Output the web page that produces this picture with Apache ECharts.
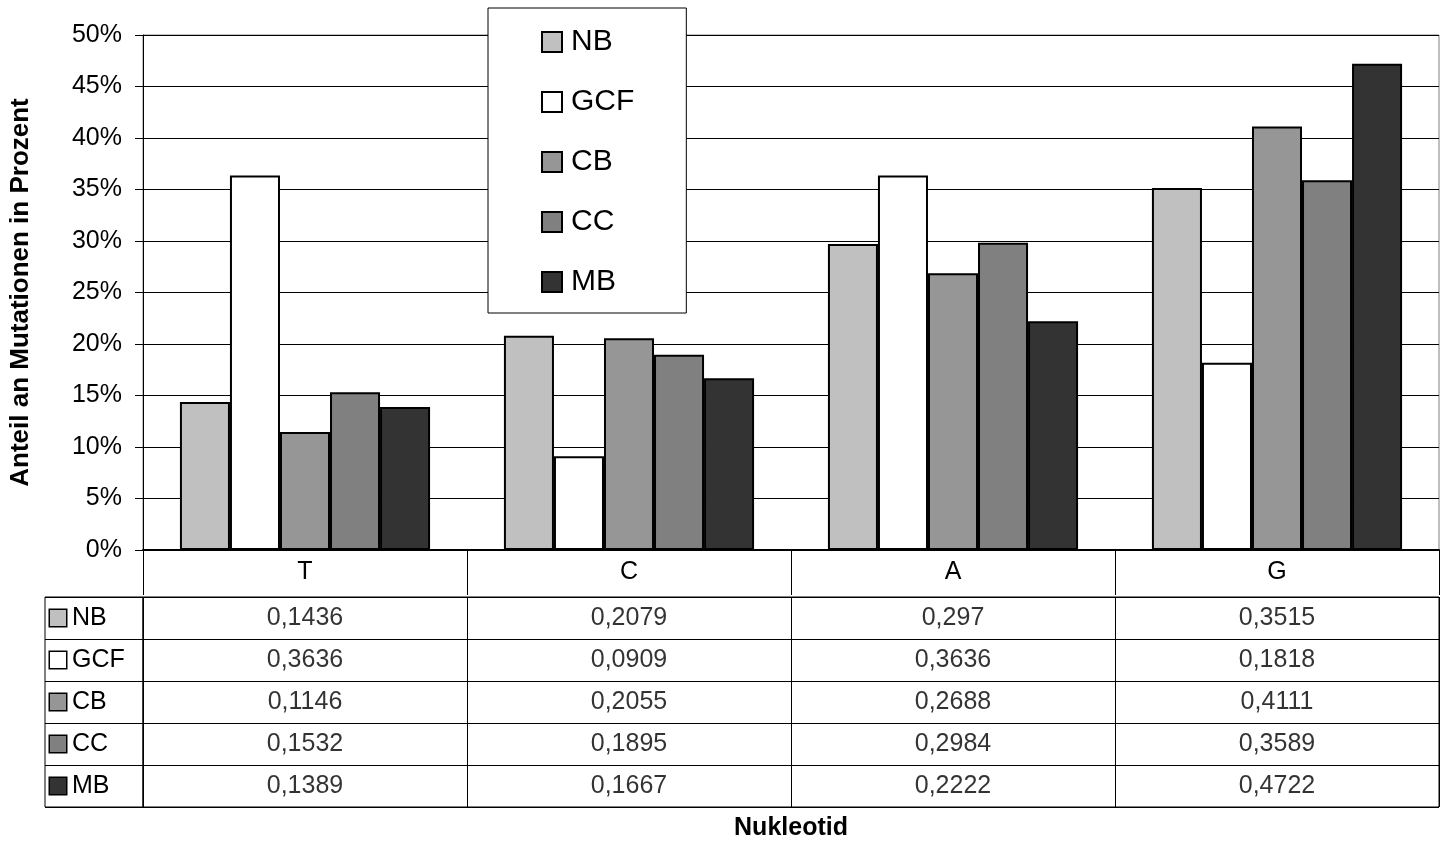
<!DOCTYPE html>
<html><head><meta charset="utf-8">
<script src="https://cdn.jsdelivr.net/npm/echarts@6/dist/echarts.min.js"></script>
<style>html,body{margin:0;padding:0;background:#fff}#c{width:1449px;height:846px}</style>
</head><body><div id="c"></div>
<script>
const categories = ['T', 'C', 'A', 'G'];
const seriesNames = ['NB', 'GCF', 'CB', 'CC', 'MB'];
const NB  = [0.1436, 0.2079, 0.297, 0.3515];
const GCF = [0.3636, 0.0909, 0.3636, 0.1818];
const CB  = [0.1146, 0.2055, 0.2688, 0.4111];
const CC  = [0.1532, 0.1895, 0.2984, 0.3589];
const MB  = [0.1389, 0.1667, 0.2222, 0.4722];
const colors = ['#c0c0c0', '#ffffff', '#969696', '#808080', '#333333'];
const yTicks = [0, 0.05, 0.1, 0.15, 0.2, 0.25, 0.3, 0.35, 0.4, 0.45, 0.5];
const yTitle = 'Anteil an Mutationen in Prozent';
const xTitle = 'Nukleotid';

const allSeries = [NB, GCF, CB, CC, MB];
const FONT = 'Liberation Sans, Arial, sans-serif';

const fmt = v => String(v).replace('.', ',');

const tableData = [];
allSeries.forEach((arr, ri) => arr.forEach((v, ci) => tableData.push([ci, ri, v])));

const rich = {};
seriesNames.forEach((n, i) => {
  rich['b' + i] = {width: 16, height: 16, backgroundColor: colors[i], borderColor: '#000', borderWidth: 1.5};
});
rich.t = {fontSize: 25, color: '#000', fontFamily: FONT, padding: [0, 0, 0, 6]};

const chart = echarts.init(document.getElementById('c'));
chart.setOption({
  animation: false,
  backgroundColor: '#fff',
  textStyle: {fontFamily: FONT},
  legend: {
    orient: 'vertical',
    left: 488, top: 8,
    padding: [19, 52, 16, 53],
    backgroundColor: '#fff',
    borderColor: '#000', borderWidth: 1,
    itemWidth: 20, itemHeight: 20, itemGap: 30,
    icon: 'rect',
    selectedMode: false,
    textStyle: {fontSize: 30, color: '#000', fontFamily: FONT, lineHeight: 29, padding: [0, 0, 0, 4]},
    data: seriesNames
  },
  grid: [
    {left: 143, top: 35, width: 1296, height: 517, show: true, borderColor: '#808080', borderWidth: 1},
    {left: 143, top: 597, width: 1296, height: 210, show: true, borderColor: '#000', borderWidth: 1},
    {left: 45, top: 597, width: 98, height: 210, show: true, borderColor: '#000', borderWidth: 1}
  ],
  xAxis: [
    {
      gridIndex: 0, type: 'category', data: categories,
      axisLine: {lineStyle: {color: '#000', width: 2}},
      axisTick: {show: true, length: 45, interval: 0, lineStyle: {color: '#000', width: 1}},
      axisLabel: {fontSize: 25, color: '#000', margin: 10, fontFamily: FONT, interval: 0},
      name: xTitle, nameLocation: 'middle', nameGap: 266,
      nameTextStyle: {fontSize: 25, fontWeight: 'bold', color: '#000', fontFamily: FONT}
    },
    {
      gridIndex: 1, type: 'category', data: categories,
      axisLine: {show: false}, axisTick: {show: false}, axisLabel: {show: false},
      splitLine: {show: true, interval: 0, lineStyle: {color: '#000', width: 1}}
    },
    {
      gridIndex: 2, type: 'value', show: false
    }
  ],
  yAxis: [
    {
      gridIndex: 0, type: 'value', min: 0, max: 0.5, interval: 0.05,
      axisLine: {show: true, lineStyle: {color: '#000', width: 1}},
      axisTick: {show: true, length: 8, lineStyle: {color: '#000'}},
      axisLabel: {fontSize: 25, color: '#000', margin: 21, fontFamily: FONT,
        formatter: v => Math.round(v * 100) + '%'},
      splitLine: {show: true, lineStyle: {color: '#000', width: 1}},
      name: yTitle, nameLocation: 'middle', nameGap: 109,
      nameTextStyle: {fontSize: 26, fontWeight: 'bold', color: '#000', fontFamily: FONT}
    },
    {
      gridIndex: 1, type: 'category', data: seriesNames, inverse: true,
      axisLine: {show: false}, axisTick: {show: false}, axisLabel: {show: false},
      splitLine: {show: true, interval: 0, lineStyle: {color: '#000', width: 1}}
    },
    {
      gridIndex: 2, type: 'category', data: seriesNames, inverse: true,
      axisLine: {show: false}, axisTick: {show: false},
      axisLabel: {inside: true, margin: 5, interval: 0,
        formatter: (v, i) => '{b' + i + '|}{t|' + v + '}', rich: rich},
      splitLine: {show: true, interval: 0, lineStyle: {color: '#000', width: 1}}
    }
  ],
  series: seriesNames.map((n, i) => ({
    name: n, type: 'bar', xAxisIndex: 0, yAxisIndex: 0,
    data: allSeries[i],
    barGap: '0%', barCategoryGap: '22.8%',
    itemStyle: {color: colors[i], borderColor: '#000', borderWidth: 2}
  })).concat([{
    type: 'scatter', xAxisIndex: 1, yAxisIndex: 1,
    data: tableData, symbolSize: 1,
    itemStyle: {color: 'rgba(0,0,0,0)'},
    label: {show: true, position: 'inside', fontSize: 25, color: '#000', fontFamily: FONT,
      formatter: p => fmt(p.value[2])},
    silent: true
  }])
});
</script>
</body></html>
